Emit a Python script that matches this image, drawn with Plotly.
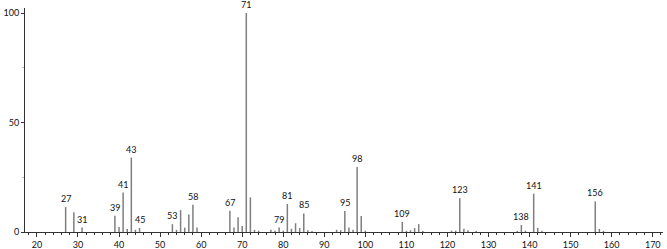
import plotly.graph_objects as go

# m/z values and relative intensities (%)
mz = [27, 29, 31, 39, 40, 41, 42, 43, 44, 45, 53, 54, 55, 56, 57, 58, 59,
      67, 68, 69, 70, 71, 72, 73, 74, 77, 78, 79, 80, 81, 82, 83, 84, 85, 86, 87,
      93, 94, 95, 96, 97, 98, 99, 100, 109, 110, 111, 112, 113, 114,
      121, 122, 123, 124, 125, 127, 137, 138, 139, 141, 142, 143, 156, 157, 158]
intensity = [11.4, 9.0, 2.0, 7.4, 2.3, 18.0, 1.4, 34.0, 1.0, 1.8, 3.6, 1.0, 10.0, 2.0, 8.0, 12.5, 2.0,
             9.7, 2.0, 6.7, 2.7, 100.0, 15.8, 1.0, 0.6, 1.0, 0.6, 2.0, 0.6, 12.8, 1.5, 4.0, 1.8, 8.5, 0.8, 0.5,
             1.0, 0.8, 9.6, 2.0, 1.0, 29.7, 7.3, 0.6, 4.6, 0.5, 0.8, 1.8, 3.6, 0.5,
             0.6, 0.6, 15.4, 1.5, 0.8, 0.5, 0.5, 3.2, 0.6, 17.5, 1.8, 0.6, 14.0, 1.4, 0.5]
labeled_peaks = [27, 31, 39, 41, 43, 45, 53, 58, 67, 71, 79, 81, 85, 95, 98, 109, 123, 138, 141, 156]

x_range = [17.1, 172.5]
y_range = [0, 102.3]

xs, ys = [], []
for m, h in zip(mz, intensity):
    xs += [m, m, None]
    ys += [0, h, None]

fig = go.Figure()
fig.add_trace(go.Scatter(x=xs, y=ys, mode="lines",
                         line=dict(color="#7f7f7f", width=1.5),
                         hoverinfo="skip", showlegend=False))

lookup = dict(zip(mz, intensity))
for m in labeled_peaks:
    fig.add_annotation(x=m, y=lookup[m], text=str(m), showarrow=False,
                       yanchor="bottom", yshift=1,
                       font=dict(size=9, color="#111111", family="Lato, DejaVu Sans, sans-serif"))

fig.update_layout(
    width=667, height=249,
    margin=dict(l=25, r=4, t=8, b=17, autoexpand=False),
    paper_bgcolor="white", plot_bgcolor="white",
    font=dict(family="Lato, DejaVu Sans, sans-serif", size=9, color="#111111"),
    xaxis=dict(range=x_range, tickmode="linear", tick0=20, dtick=10, automargin=False,
               ticks="outside", ticklen=4, tickcolor="#333", tickwidth=1,
               minor=dict(dtick=2, tick0=20, ticks="outside", ticklen=2, tickcolor="#333"),
               showline=True, linecolor="#333", linewidth=1, showgrid=False, zeroline=False,
               tickfont=dict(size=9)),
    yaxis=dict(range=y_range, tickmode="array", tickvals=[0, 50, 100], ticktext=["0", "50", "100"],
               automargin=False,
               ticks="outside", ticklen=3, tickcolor="#333", tickwidth=1,
               minor=dict(tickvals=[25, 75], ticks="outside", ticklen=2, tickcolor="#bbb"),
               showline=True, linecolor="#333", linewidth=1, showgrid=False, zeroline=False,
               tickfont=dict(size=9)),
)

fig.write_html("out.html")
